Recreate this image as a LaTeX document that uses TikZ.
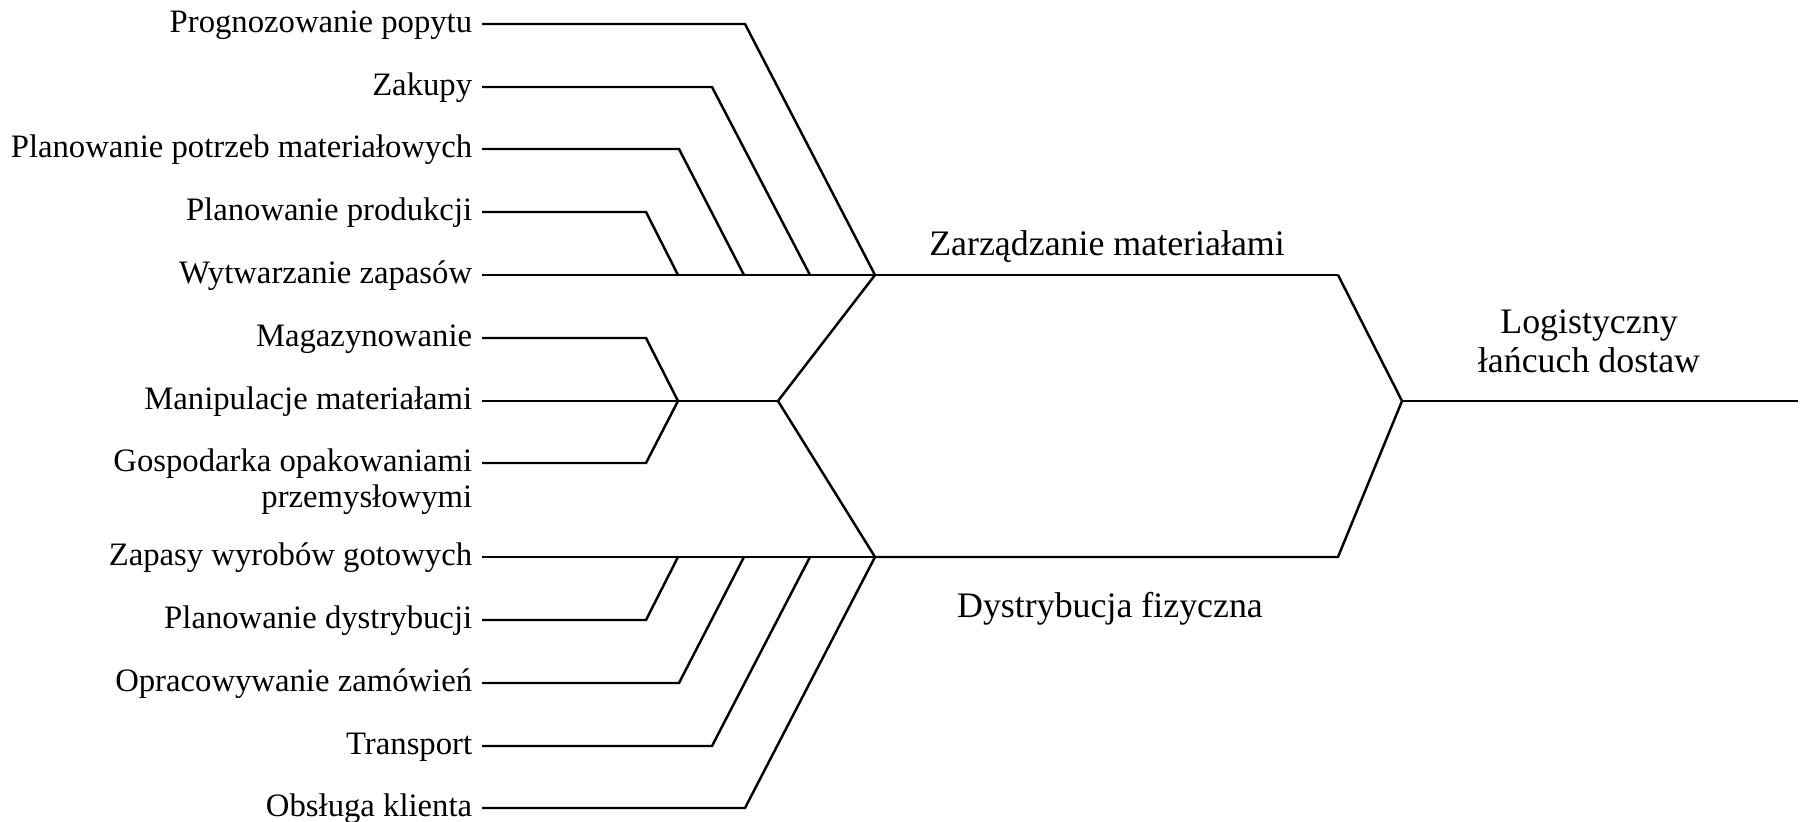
\documentclass[tikz,border=0pt]{standalone}
\usepackage{fontspec}
\setmainfont{Liberation Serif}
\begin{document}
\begin{tikzpicture}[x=0.01cm,y=-0.01cm,
  side/.style={font=\fontsize{9.3}{10.3}\selectfont, anchor=east, inner xsep=2.6pt, inner ysep=0pt, text height=0.69em, text depth=0.22em},
  sidecont/.style={font=\fontsize{9.3}{10.3}\selectfont, anchor=north east, inner xsep=2.6pt, inner ysep=0pt, text height=0.69em, text depth=0.22em},
  mainlbl/.style={font=\fontsize{10.2}{11.1}\selectfont, inner sep=0pt},
  ln/.style={line width=0.7pt},
  thinln/.style={line width=0.35pt}]
\useasboundingbox (0,0) rectangle (1802,822);

% junction points
\coordinate (J1) at (875,275);
\coordinate (J2) at (875,557);
\coordinate (M)  at (778,401);
\coordinate (TR) at (1338,275);
\coordinate (BR) at (1338,557);
\coordinate (R)  at (1402,401);
\coordinate (E)  at (1798,401);

% side labels
\node[side] (l1)  at (482,24)  {Prognozowanie popytu};
\node[side] (l2)  at (482,87)  {Zakupy};
\node[side] (l3)  at (482,149) {Planowanie potrzeb materiałowych};
\node[side] (l4)  at (482,212) {Planowanie produkcji};
\node[side] (l5)  at (482,275) {Wytwarzanie zapasów};
\node[side] (l6)  at (482,338) {Magazynowanie};
\node[side] (l7)  at (482,401) {Manipulacje materiałami};
\node[side] (l8)  at (482,463) {Gospodarka opakowaniami};
\node[sidecont] (l8b) at ([yshift=-0.7pt]l8.south east) {przemysłowymi};
\node[side] (l9)  at (482,557) {Zapasy wyrobów gotowych};
\node[side] (l10) at (482,620) {Planowanie dystrybucji};
\node[side] (l11) at (482,683) {Opracowywanie zamówień};
\node[side] (l12) at (482,746) {Transport};
\node[side] (l13) at (482,808) {Obsługa klienta};

% knees and joints
\coordinate (k1) at (745,24);
\coordinate (k2) at (712,87);   \coordinate (j2) at (810,275);
\coordinate (k3) at (679,149);  \coordinate (j3) at (744,275);
\coordinate (k4) at (646,212);  \coordinate (j4) at (678,275);
\coordinate (k6) at (646,338);  \coordinate (jm) at (678,401);
\coordinate (k8) at (646,463);
\coordinate (k10) at (646,620); \coordinate (j10) at (678,557);
\coordinate (k11) at (679,683); \coordinate (j11) at (744,557);
\coordinate (k12) at (712,746); \coordinate (j12) at (810,557);
\coordinate (k13) at (745,808);

% top branch
\draw[ln] (l1.east) -- (k1) -- (J1);
\draw[ln] (l2.east) -- (k2) -- (j2);
\draw[ln] (l3.east) -- (k3) -- (j3);
\draw[ln] (l4.east) -- (k4) -- (j4);
\draw[ln] (l5.east) -- (J1);

% middle branch
\draw[ln] (l6.east) -- (k6) -- (jm);
\draw[ln] (l7.east) -- (M);
\draw[ln] (l8.east) -- (k8) -- (jm);
\draw[ln] (J1) -- (M) -- (J2);

% bottom branch
\draw[ln] (l9.east) -- (J2);
\draw[ln] (l10.east) -- (k10) -- (j10);
\draw[ln] (l11.east) -- (k11) -- (j11);
\draw[ln] (l12.east) -- (k12) -- (j12);
\draw[ln] (l13.east) -- (k13) -- (J2);

% main body
\draw[thinln] (J1) -- (TR);
\draw[ln] (TR) -- (R) -- (BR) -- (J2);
\draw[ln] (R) -- (E);

% main labels
\node[mainlbl, anchor=base] (zm) at (1107,256) {Zarządzanie materiałami};
\node[mainlbl, anchor=base] (df) at (1110,618) {Dystrybucja fizyczna};
\node[mainlbl, align=center, anchor=center] (lds) at (1589,341) {Logistyczny\\łańcuch dostaw};
\end{tikzpicture}
\end{document}
